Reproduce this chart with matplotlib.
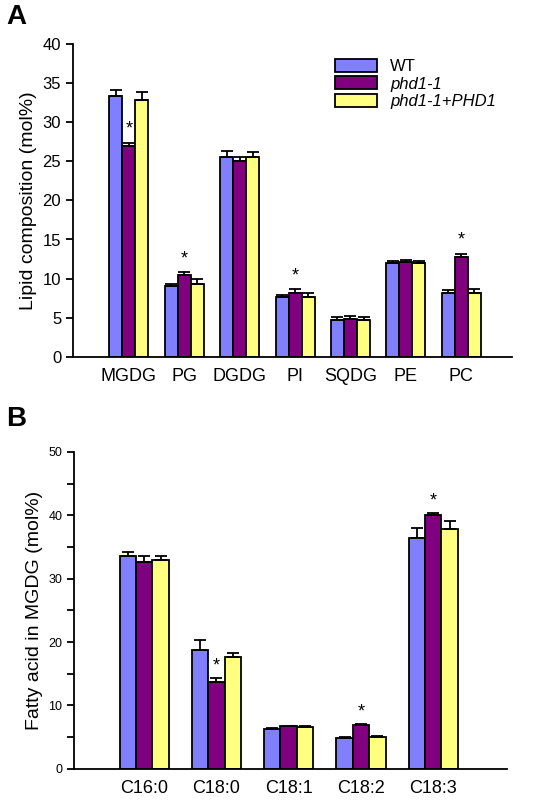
import numpy as np
import matplotlib
matplotlib.use("Agg")
import matplotlib.pyplot as plt
from matplotlib.ticker import MultipleLocator

plt.rcParams["font.family"] = ["Liberation Sans", "DejaVu Sans"]

lipids = ["MGDG", "PG", "DGDG", "PI", "SQDG", "PE", "PC"]
wt_a = [33.4, 9.1, 25.6, 7.6, 4.7, 12.0, 8.1]
wt_a_err = [0.7, 0.2, 0.7, 0.3, 0.4, 0.3, 0.5]
phd_a = [26.9, 10.5, 25.1, 8.2, 4.8, 12.1, 12.7]
phd_a_err = [0.5, 0.3, 0.5, 0.5, 0.4, 0.3, 0.5]
comp_a = [32.9, 9.3, 25.5, 7.6, 4.7, 12.0, 8.2]
comp_a_err = [1.0, 0.7, 0.7, 0.5, 0.4, 0.3, 0.5]
stars_a = ["MGDG", "PG", "PI", "PC"]

acids = ["C16:0", "C18:0", "C18:1", "C18:2", "C18:3"]
wt_b = [33.6, 18.7, 6.3, 4.9, 36.5]
wt_b_err = [0.6, 1.7, 0.1, 0.1, 1.5]
phd_b = [32.6, 13.7, 6.7, 6.9, 40.1]
phd_b_err = [1.0, 0.6, 0.1, 0.1, 0.2]
comp_b = [32.9, 17.7, 6.6, 5.0, 37.8]
comp_b_err = [0.7, 0.6, 0.1, 0.1, 1.3]
stars_b = ["C18:0", "C18:2", "C18:3"]

colors = ["#8080ff", "#800080", "#ffff80"]
names = ["WT", "phd1-1", "phd1-1+PHD1"]


def draw(ax, cats, series, errs, stars, w, star_font):
    x = np.arange(len(cats))
    for i, (vals, er) in enumerate(zip(series, errs)):
        ax.bar(x + (i - 1) * w, vals, w, color=colors[i], edgecolor="black",
               linewidth=1.3, label=names[i],
               yerr=[np.zeros(len(vals)), er], capsize=4,
               error_kw=dict(elinewidth=1.3, capthick=1.3, ecolor="black"))
    for c in stars:
        j = cats.index(c)
        ax.text(x[j], series[1][j] + errs[1][j] + 0.6, "*", ha="center",
                va="bottom", fontsize=star_font)
    ax.set_xticks(x)
    ax.set_xticklabels(cats, fontsize=13)
    ax.tick_params(axis="x", length=0, pad=8)
    ax.tick_params(axis="y", direction="out", width=1.3, length=5)
    for s in ["top", "right"]:
        ax.spines[s].set_visible(False)
    for s in ["left", "bottom"]:
        ax.spines[s].set_linewidth(1.3)


fig = plt.figure(figsize=(5.33, 8), dpi=100)

ax1 = fig.add_axes([0.137, 0.554, 0.824, 0.391])
draw(ax1, lipids, [wt_a, phd_a, comp_a], [wt_a_err, phd_a_err, comp_a_err],
     stars_a, 0.235, 13)
ax1.set_xlim(-1.01, 6.92)
ax1.set_ylim(0, 40)
ax1.set_yticks(range(0, 41, 5))
ax1.tick_params(axis="y", labelsize=12)
ax1.set_ylabel("Lipid composition (mol%)", fontsize=14)
leg = ax1.legend(loc="upper right", bbox_to_anchor=(0.99, 0.99), frameon=False,
                 fontsize=12, handlelength=2.5, handleheight=0.8,
                 labelspacing=0.15, borderaxespad=0.3)
for t in leg.get_texts()[1:]:
    t.set_style("italic")
fig.text(0.012, 0.97, "A", fontsize=20, fontweight="bold")

ax2 = fig.add_axes([0.139, 0.039, 0.812, 0.396])
draw(ax2, acids, [wt_b, phd_b, comp_b], [wt_b_err, phd_b_err, comp_b_err],
     stars_b, 0.227, 13)
ax2.set_xlim(-0.97, 5.02)
ax2.set_ylim(0, 50)
ax2.set_yticks(range(0, 51, 10))
ax2.yaxis.set_minor_locator(MultipleLocator(5))
ax2.tick_params(axis="y", which="minor", direction="out", width=1.3, length=5)
ax2.tick_params(axis="y", labelsize=9)
ax2.set_ylabel("Fatty acid in MGDG (mol%)", fontsize=14)
fig.text(0.012, 0.468, "B", fontsize=20, fontweight="bold")

fig.savefig("out.png", dpi=100)
